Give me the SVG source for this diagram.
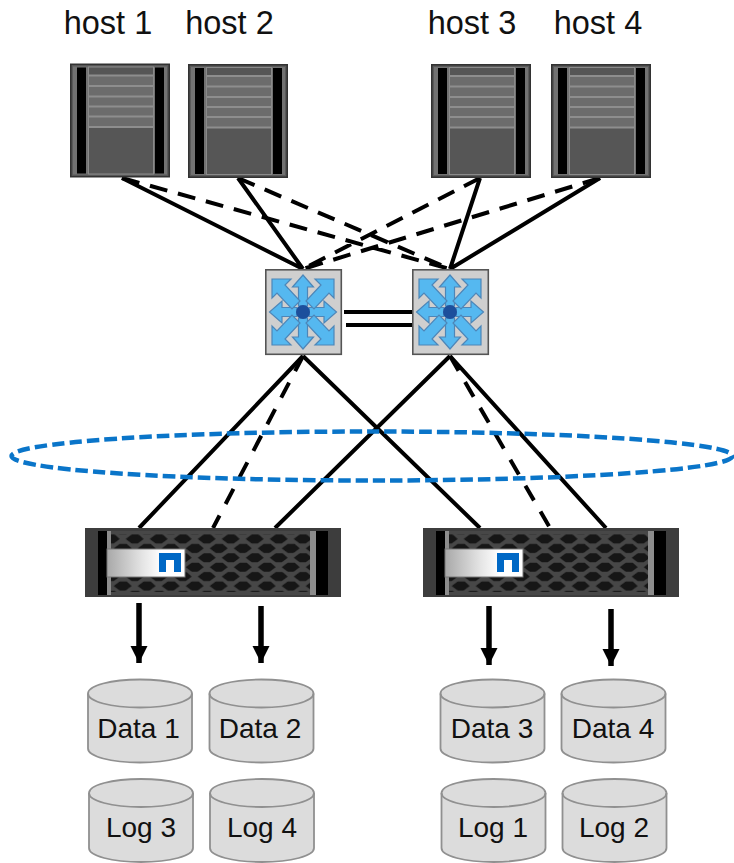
<svg xmlns="http://www.w3.org/2000/svg" width="734" height="863" viewBox="0 0 734 863">
<style>
text{font-family:"Liberation Sans",Arial,sans-serif;fill:#111;text-anchor:middle}
.host{font-size:32.5px}
.cyl{font-size:28px}
.s{stroke:#000;stroke-width:4;fill:none}
.d{stroke:#000;stroke-width:4;fill:none;stroke-dasharray:18 11}
.dl{stroke:#000;stroke-width:4;fill:none;stroke-dasharray:17 13}
.ar{stroke:#000;stroke-width:5.500;fill:none}
.cb{fill:#dcdcdc;stroke:#909090;stroke-width:1.800}
.ct{fill:none;stroke:#909090;stroke-width:1.800}
</style>
<defs>
<filter id="soft" x="-5%" y="-5%" width="110%" height="110%"><feGaussianBlur stdDeviation="0.5"/></filter>
<marker id="ah" markerUnits="userSpaceOnUse" markerWidth="18" markerHeight="18" refX="17" refY="8.500" orient="auto"><path d="M0 0L17 8.500L0 17z" fill="#000"/></marker>
<linearGradient id="bez" x1="0" x2="1" y1="0" y2="0"><stop offset="0" stop-color="#a8a8a8"/><stop offset=".45" stop-color="#e4e4e4"/><stop offset=".7" stop-color="#fff"/><stop offset="1" stop-color="#fff"/></linearGradient>
<pattern id="grille" patternUnits="userSpaceOnUse" x="-10.300" y="6.300" width="24" height="18.800">
<path d="M3 4.700L9 .2L16 .2L21 4.700L15 9.200L9 9.200z" fill="#141414"/>
<path d="M-9 14.100L-3 9.600L4 9.600L9 14.100L3 18.600L-3 18.600z" fill="#141414"/>
<path d="M15 14.100L21 9.600L28 9.600L33 14.100L27 18.600L21 18.600z" fill="#141414"/>
</pattern>
<g id="server" filter="url(#soft)">
<rect x="0.800" y="0.800" width="98.400" height="112.400" fill="#5a5a5a" stroke="#333" stroke-width="1.600"/>
<rect x="3" y="3" width="94" height="108" fill="#727272"/>
<rect x="7" y="4" width="9" height="106" fill="#000"/>
<rect x="85" y="4" width="9" height="106" fill="#000"/>
<rect x="18.500" y="3.500" width="65" height="107" fill="#565656" stroke="#8a8a8a"/>
<rect x="19" y="12" width="64" height="52" fill="#6c6c6c"/>
<path d="M19 12H83M19 22.500H83M19 33H83M19 43H83M19 53H83M19 63.500H83" stroke="#8e8e8e" stroke-width="1.800"/>
</g>
<g id="switch" filter="url(#soft)">
<rect x="0.800" y="0.800" width="75.500" height="84.500" fill="#cfcfcf" stroke="#555" stroke-width="1.600"/>
<g fill="#55b8f0" stroke="#4d86b8" stroke-width="1.200" transform="translate(38,43)">
<path d="M-4.500 -6V-25H-10.500L0 -37L10.500 -25H4.500V-6z"/>
<path d="M-4.500 6V25H-10.500L0 37L10.500 25H4.500V6z"/>
<path d="M-6 -4.500H-21V-11L-33.500 0L-21 11V4.500H-6z"/>
<path d="M6 -4.500H21V-11L33.500 0L21 11V4.500H6z"/>
<path d="M-31 -33H-12L-18 -27L-3 -11L-11 -3L-26 -19L-31 -14z"/>
<path d="M31 -33H12L18 -27L3 -11L11 -3L26 -19L31 -14z"/>
<path d="M-31 33H-12L-18 27L-3 11L-11 3L-26 19L-31 14z"/>
<path d="M31 33H12L18 27L3 11L11 3L26 19L31 14z"/>
</g>
<circle cx="38" cy="43" r="7" fill="#1c4f9c"/>
</g>
<g id="ctrl" filter="url(#soft)">
<rect x="0" y="0" width="256" height="69" fill="#3c3c3c"/>
<rect x="22" y="3" width="204" height="64" fill="#474747"/>
<rect x="26" y="6" width="199" height="58" fill="url(#grille)"/>
<rect x="13" y="3" width="9" height="64" fill="#000"/>
<rect x="22" y="3" width="4" height="64" fill="#8c8c8c"/>
<rect x="225" y="3" width="6" height="64" fill="#8c8c8c"/>
<rect x="231" y="3" width="12" height="64" fill="#000"/>
<rect x="22" y="21" width="78" height="28" fill="url(#bez)" stroke="#777" stroke-width="1"/>
<path d="M74 25H96V44H89V32H81V44H74z" fill="#0067c5"/>
</g>
<g id="cylbody">
<path class="cb" d="M1 15C1 7 24 1 53 1S105 7 105 15V70C105 78 82 84 53 84S1 78 1 70z"/>
<path class="ct" d="M1 15C1 23 24 29 53 29S105 23 105 15"/>
</g>
</defs>

<g id="connectors">
<path class="s" d="M122 178L303 269M238 178L303 269M480 178L450 269M600 178L450 269"/>
<path class="d" d="M122 178L450 269M238 178L450 269M480 178L303 269M600 178L303 269"/>
<path class="s" d="M344 312H412M346 325H414"/>
<path class="s" d="M303 356L139 528M303 356L480 528M450 356L275 528M450 356L606 528"/>
<path class="dl" d="M303 356L213 528M450 356L550 528"/>
<ellipse cx="372" cy="456" rx="360.500" ry="24.500" fill="none" stroke="#0a75c9" stroke-width="4.500" stroke-dasharray="12.500 5"/>
<path class="ar" marker-end="url(#ah)" d="M139 603V663"/>
<path class="ar" marker-end="url(#ah)" d="M261 606V663"/>
<path class="ar" marker-end="url(#ah)" d="M489 606V665"/>
<path class="ar" marker-end="url(#ah)" d="M611 609V666"/>
</g>

<g id="host1"><text class="host" x="108" y="34">host 1</text><use href="#server" x="70" y="63.500"/></g>
<g id="host2"><text class="host" x="229.500" y="34">host 2</text><use href="#server" x="188" y="64"/></g>
<g id="host3"><text class="host" x="472" y="34">host 3</text><use href="#server" x="431" y="64"/></g>
<g id="host4"><text class="host" x="598" y="34">host 4</text><use href="#server" x="551" y="64"/></g>

<g id="switch1"><use href="#switch" x="265" y="269"/></g>
<g id="switch2"><use href="#switch" x="412" y="269"/></g>

<g id="controller1"><use href="#ctrl" x="85" y="528"/></g>
<g id="controller2"><use href="#ctrl" x="423" y="528"/></g>

<g id="data1"><use href="#cylbody" x="87" y="678.500"/><text class="cyl" x="138.500" y="737.500">Data 1</text></g>
<g id="data2"><use href="#cylbody" x="208.500" y="678.500"/><text class="cyl" x="260" y="737.500">Data 2</text></g>
<g id="data3"><use href="#cylbody" x="439.500" y="678.500"/><text class="cyl" x="492" y="737.500">Data 3</text></g>
<g id="data4"><use href="#cylbody" x="560.500" y="678.500"/><text class="cyl" x="613" y="737.500">Data 4</text></g>
<g id="log3"><use href="#cylbody" x="88" y="778"/><text class="cyl" x="141" y="837">Log 3</text></g>
<g id="log4"><use href="#cylbody" x="209" y="778"/><text class="cyl" x="262" y="837">Log 4</text></g>
<g id="log1"><use href="#cylbody" x="440.500" y="778"/><text class="cyl" x="493" y="837">Log 1</text></g>
<g id="log2"><use href="#cylbody" x="561.500" y="778"/><text class="cyl" x="614" y="837">Log 2</text></g>
</svg>
